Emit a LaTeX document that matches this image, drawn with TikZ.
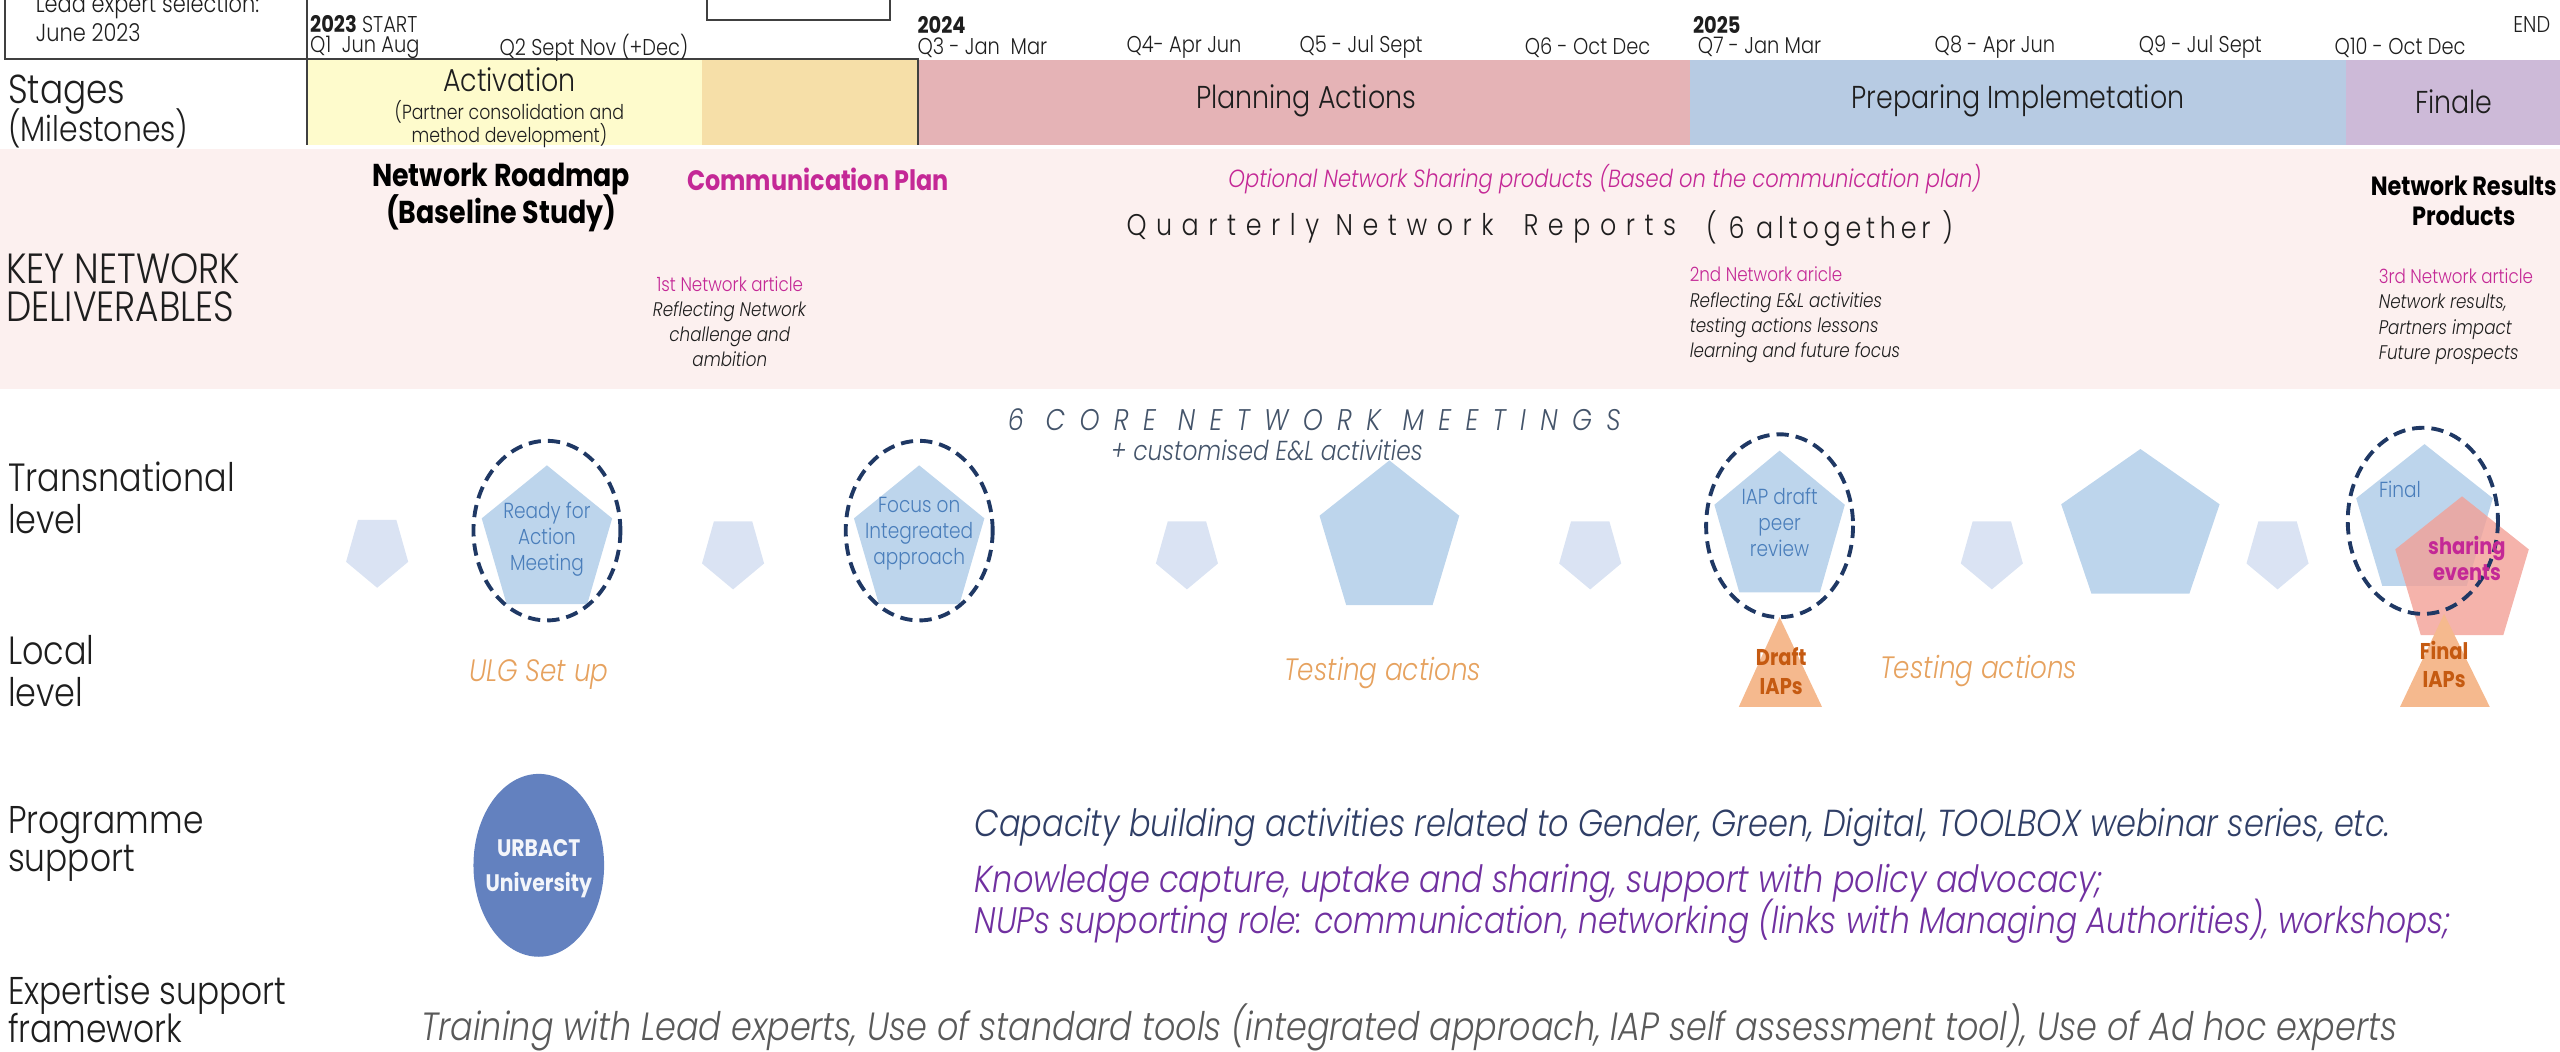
\documentclass[tikz,border=0pt]{standalone}
\usepackage{fontspec}
\setmainfont{Poppins}[FakeStretch=0.85, UprightFont={* Light}, ItalicFont={* Light Italic}, BoldFont={* Bold}, BoldItalicFont={* Bold Italic}]
\usetikzlibrary{calc}
\newcommand\fsz[2]{\fontsize{#1}{#2}\selectfont}
\definecolor{txt}{RGB}{30,30,30}
\definecolor{mag}{RGB}{196,40,150}
\definecolor{navy}{RGB}{31,56,100}
\definecolor{meet}{RGB}{68,84,106}
\definecolor{pblue}{RGB}{74,126,187}
\definecolor{bigpent}{RGB}{189,213,236}
\definecolor{smallpent}{RGB}{218,227,243}
\definecolor{orangetxt}{RGB}{230,162,95}
\definecolor{tri}{RGB}{245,185,142}
\definecolor{tritxt}{RGB}{197,90,17}
\definecolor{sharepink}{RGB}{242,160,150}
\definecolor{urb}{RGB}{99,129,191}
\definecolor{capblue}{RGB}{47,62,102}
\definecolor{purp}{RGB}{112,48,160}
\definecolor{graytxt}{RGB}{89,89,89}
\definecolor{yel}{RGB}{254,251,204}
\definecolor{tanc}{RGB}{246,223,168}
\definecolor{pinkst}{RGB}{229,179,182}
\definecolor{bluest}{RGB}{183,203,227}
\definecolor{purst}{RGB}{205,186,216}
\definecolor{band}{RGB}{252,240,239}
\definecolor{boxline}{RGB}{64,64,64}
\newcommand\pentU[5]{\begin{scope}[shift={(#1,#2)}]\fill[#5] (-90:#3 and #4) -- (-18:#3 and #4) -- (54:#3 and #4) -- (126:#3 and #4) -- (198:#3 and #4) -- cycle;\end{scope}}
\newcommand\pentD[5]{\begin{scope}[shift={(#1,#2)}]\fill[#5] (90:#3 and #4) -- (162:#3 and #4) -- (234:#3 and #4) -- (306:#3 and #4) -- (18:#3 and #4) -- cycle;\end{scope}}
\tikzset{
 every node/.style={inner sep=0pt, outer sep=0pt},
 hdr/.style={anchor=west, text=txt, font=\fsz{6.5}{7.5}},
 lab/.style={anchor=west, text=txt, align=left},
 st/.style={text=txt, font=\fsz{9}{10}},
 stsub/.style={text=txt, align=center, font=\fsz{5.8}{6.4}},
 dlvb/.style={text=black, align=center, font=\bfseries\fsz{9}{10.3}},
 small/.style={text=txt, align=center, font=\fsz{5.6}{7.2}},
 pentxt/.style={text=pblue, align=center, font=\fsz{6.2}{7.4}},
 loc/.style={text=orangetxt, font=\itshape\fsz{8.8}{10}},
 tritext/.style={text=tritxt, align=center, font=\bfseries\fsz{6.5}{8.2}},
 circ/.style={draw=navy, line width=1.1pt, dash pattern=on 3.5pt off 2pt},
 frameline/.style={draw=boxline, line width=0.6pt},
}
\begin{document}
\lineskiplimit=-100pt \lineskip=0pt
\begin{tikzpicture}[x=0.016327cm,y=-0.016327cm]
\useasboundingbox (0,0) rectangle (1568,644);
% stage blocks
\fill[yel] (188,37) rectangle (430,89);
\fill[tanc] (430,37) rectangle (562,89);
\fill[pinkst] (562,37) rectangle (1035,89);
\fill[bluest] (1035,37) rectangle (1437,89);
\fill[purst] (1437,37) rectangle (1568,89);
\fill[band] (0,91) rectangle (1568,238);
% frame lines
\draw[frameline] (3,-5) -- (3,36) -- (562,36) -- (562,89);
\draw[frameline] (188,-5) -- (188,89);
\draw[frameline] (433,-5) -- (433,12) -- (545,12) -- (545,-5);
% header
\node[hdr, font=\fsz{7}{8}] (lead1) at (22,4) {Lead expert selection:};
\node[hdr, font=\fsz{7}{8}] (lead2) at (22,20) {June 2023};
\node[hdr] (y23) at (190,15) {\textbf{2023} START};
\node[hdr] (q1) at (190,29) {Q1\ \ Jun Aug};
\node[hdr] (q2) at (306,29) {Q2 Sept Nov (+Dec)};
\node[hdr] (y24) at (562,15) {\textbf{2024}};
\node[hdr] (q3) at (562,29) {Q3 - Jan\ \ Mar};
\node[hdr] (q4) at (690,29) {Q4- Apr Jun};
\node[hdr] (q5) at (796,29) {Q5 - Jul Sept};
\node[hdr] (q6) at (934,29) {Q6 - Oct Dec};
\node[hdr] (y25) at (1037,15) {\textbf{2025}};
\node[hdr] (q7) at (1040,29) {Q7 - Jan Mar};
\node[hdr] (q8) at (1185,29) {Q8 - Apr Jun};
\node[hdr] (q9) at (1310,29) {Q9 - Jul Sept};
\node[hdr] (q10) at (1430,29) {Q10 - Oct Dec};
\node[hdr, anchor=east] (endl) at (1562,15) {END};
% stage texts
\node[lab, font=\fsz{11.5}{10.8}] (stages) at (5,68) {Stages\\{\fsz{10}{10.8}(Milestones)}};
\node[st] (act) at (312,49) {Activation};
\node[stsub] (actsub) at (312,76) {(Partner consolidation and\\method development)};
\node[st] (plan) at (800,62) {Planning Actions};
\node[st] (prep) at (1236,62) {Preparing Implemetation};
\node[st] (fin) at (1503,62) {Finale};
% deliverables
\node[lab, font=\fsz{12}{10.8}] (kn) at (4,176) {KEY NETWORK\\DELIVERABLES};
\node[dlvb] (roadmap) at (307,121) {Network Roadmap\\(Baseline Study)};
\node[dlvb, text=mag, font=\bfseries\fsz{8}{8.8}] (comm) at (501,110) {Communication Plan};
\node[text=mag, font=\itshape\fsz{7.05}{7.5}] (opt) at (983,110) {Optional Network Sharing products (Based on the communication plan)};
\node[anchor=west, text=txt, font={\fsz{8.5}{9}\addfontfeatures{LetterSpace=32}}] (qnr) at (690,140) {Quarterly Network\hspace{1em}Reports};
\node[anchor=west, text=txt, font={\fsz{8.5}{9}\addfontfeatures{LetterSpace=16}}] (qnr2) at (1045,140) {( 6 altogether )};
\node[small] (art1) at (447,197) {\textcolor{mag}{1st Network article}\\\textit{Reflecting Network}\\\textit{challenge and}\\\textit{ambition}};
\node[small, align=left, anchor=west] (art2) at (1035,193) {\textcolor{mag}{2nd Network aricle}\\\textit{Reflecting E\&L activities}\\\textit{testing actions lessons}\\\textit{learning and future focus}};
\node[dlvb, font=\bfseries\fsz{7.5}{8.8}] (results) at (1509,123) {Network Results\\Products};
\node[small, align=left, anchor=west] (art3) at (1457,194) {\textcolor{mag}{3rd Network article}\\\textit{Network results,}\\\textit{Partners impact}\\\textit{Future prospects}};
% meetings
\node[text=meet, font={\itshape\fsz{8.5}{9}\addfontfeatures{LetterSpace=48}}] (core) at (805,257) {6 CORE NETWORK MEETINGS};
\node[text=meet, font=\itshape\fsz{7.8}{8}] (cust) at (776,276) {+ customised E\&L activities};
\node[lab, font=\fsz{11.2}{11.8}] (trans) at (5,305) {Transnational\\level};
\node[lab, font=\fsz{11.2}{11.8}] (local) at (5,411) {Local\\level};
% small pentagons
\pentD{231}{337}{20}{23}{smallpent}
\pentD{449}{338}{20}{23}{smallpent}
\pentD{727}{338}{20}{23}{smallpent}
\pentD{974}{338}{20}{23}{smallpent}
\pentD{1220}{338}{20}{23}{smallpent}
\pentD{1395}{338}{20}{23}{smallpent}
% big pentagons
\pentU{335}{332}{42}{47}{bigpent}
\pentU{563}{332}{42}{47}{bigpent}
\pentU{851}{331}{45}{49}{bigpent}
\pentU{1090}{324}{42}{48}{bigpent}
\pentU{1311}{324}{51}{49}{bigpent}
\pentU{1485}{320}{44}{48}{bigpent}
\pentU{1508}{351}{43}{47}{sharepink, opacity=0.8}
% dashed circles
\draw[circ] (335,325) ellipse [x radius=45, y radius=55];
\draw[circ] (563,325) ellipse [x radius=45, y radius=55];
\draw[circ] (1090,322) ellipse [x radius=45, y radius=56];
\draw[circ] (1484,319) ellipse [x radius=46, y radius=57];
% triangles
\fill[tri] (1090,378) -- (1116,433) -- (1065,433) -- cycle;
\fill[tri] (1497,376) -- (1525,433) -- (1470,433) -- cycle;
% pentagon texts
\node[pentxt] (m1) at (335,330) {Ready for\\Action\\Meeting};
\node[pentxt] (m2) at (563,327) {Focus on\\Integreated\\approach};
\node[pentxt] (m3) at (1090,320) {IAP draft\\peer\\review};
\node[pentxt] (m4) at (1470,300) {Final};
\node[text=mag, align=center, font=\bfseries\fsz{6.5}{7.4}] (share) at (1511,342) {sharing\\events};
\node[tritext] (draft) at (1091,411) {Draft\\IAPs};
\node[tritext] (finiap) at (1497,407) {Final\\IAPs};
\node[loc] (ulg) at (330,413) {ULG Set up};
\node[loc] (test1) at (847,412) {Testing actions};
\node[loc] (test2) at (1212,411) {Testing actions};
% programme support
\node[lab, font=\fsz{11}{11}] (prog) at (5,517) {Programme\\support};
\fill[urb] (330,530) ellipse [x radius=40, y radius=56];
\node[text=white!92!urb, align=center, font=\bfseries\fsz{6.8}{10}] (urbact) at (330,532) {URBACT\\University};
\node[anchor=west, text=capblue, font=\itshape\fsz{10.7}{11}] (cap) at (597,507) {Capacity building activities related to Gender, Green, Digital, TOOLBOX webinar series, etc.};
\node[anchor=west, text=purp, font=\itshape\fsz{10.7}{11}] (know) at (597,541) {Knowledge capture, uptake and sharing, support with policy advocacy;};
\node[anchor=west, text=purp, font=\itshape\fsz{10.5}{11}] (nups) at (597,564) {NUPs supporting role: communication, networking (links with Managing Authorities), workshops;};
\node[lab, font=\fsz{11}{11}] (exp) at (5,618) {Expertise support\\framework};
\node[anchor=west, text=graytxt, font=\itshape\fsz{11.2}{12}] (train) at (258,629) {Training with Lead experts, Use of standard tools (integrated approach, IAP self assessment tool), Use of Ad hoc experts};
\end{tikzpicture}
\end{document}
